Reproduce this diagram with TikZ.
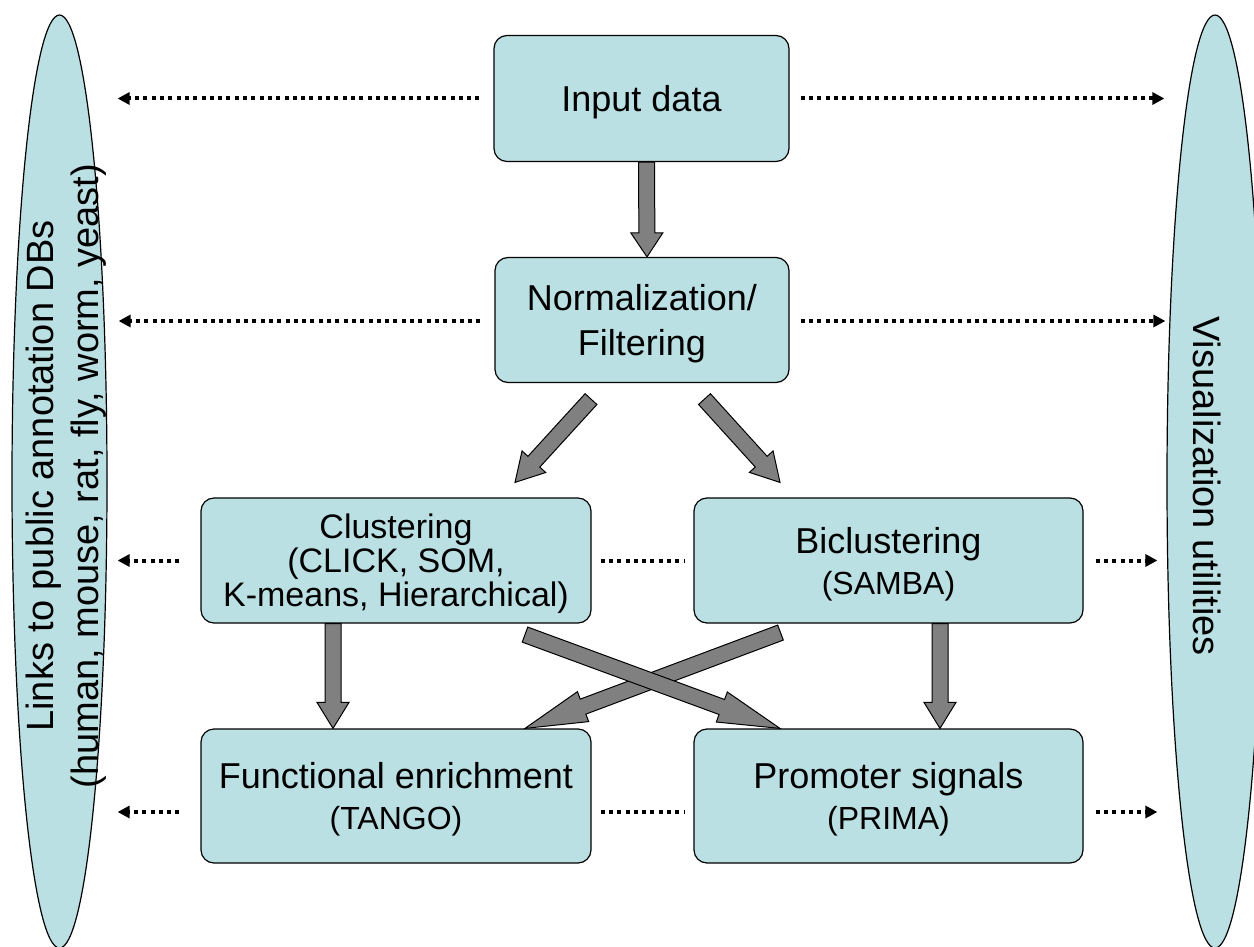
\documentclass[tikz,border=0pt]{standalone}
\usepackage{fontspec}
\setmainfont{Liberation Sans}
\usetikzlibrary{shapes.geometric,arrows.meta,calc}

\definecolor{boxfill}{RGB}{187,224,227}
\definecolor{arrfill}{RGB}{128,128,128}

\tikzset{
  boxnode/.style={draw=black, line width=1.2pt, rounded corners=13pt, fill=boxfill, align=center, inner sep=0pt, text depth=-3pt},
  sidenode/.style={ellipse, draw=black, line width=1.2pt, fill=boxfill, inner sep=0pt},
  fatarr/.style={draw=black, line width=1pt, fill=arrfill, line join=miter},
  dotline/.style={line width=4pt, dash pattern=on 4pt off 4.3pt},
  dotarr/.style={dotline, -{Triangle[length=12pt,width=12pt]}},
  bigtext/.style={font=\fontsize{36}{45}\selectfont},
  midtext/.style={font=\fontsize{34}{34}\selectfont},
  sidetext/.style={font=\fontsize{38}{45}\selectfont}
}

% block arrow: \fatarrow[head length]{from}{to}
\newcommand{\fatarrow}[3][24pt]{%
  \coordinate (fa-n) at ($(#3)!#1!(#2)$);
  \draw[fatarr] ($(#2)!8pt!90:(#3)$) -- ($(fa-n)!8pt!90:(#3)$) -- ($(fa-n)!16pt!90:(#3)$) -- (#3)
    -- ($(fa-n)!16pt!-90:(#3)$) -- ($(fa-n)!8pt!-90:(#3)$) -- ($(#2)!8pt!-90:(#3)$) -- cycle;
}
\newcommand{\subline}[1]{{\fontsize{32}{38}\selectfont #1}}

\begin{document}
\begin{tikzpicture}[x=1pt,y=1pt,yscale=-1,xscale=1]
\useasboundingbox (0,0) rectangle (1254,947);

%Shape: Ellipse left
\node[sidenode, minimum width=95pt, minimum height=933pt] (linksdb) at (59.5,481.5) {};
%Shape: Ellipse right
\node[sidenode, minimum width=96pt, minimum height=933pt] (visu) at (1215,481.5) {};

% Text Node
\node[sidetext, rotate=90, align=center] (linkstxt) at (66,476) {Links to public annotation DBs\\(human, mouse, rat, fly, worm, yeast)};
% Text Node
\node[sidetext, rotate=-90] (visutxt) at (1207,486) {Visualization utilities};

%Shape: Rounded Rect
\node[boxnode, bigtext, minimum width=295pt, minimum height=126pt] (input) at (641.5,98.5) {Input data};
\node[boxnode, bigtext, minimum width=294pt, minimum height=125pt] (norm) at (642,320) {Normalization/\\Filtering};
\node[boxnode, midtext, minimum width=390pt, minimum height=125pt] (clust) at (396,560.5) {Clustering\\(CLICK, SOM,\\K-means, Hierarchical)};
\node[boxnode, bigtext, minimum width=389pt, minimum height=125pt] (bicl) at (888.5,560.5) {Biclustering\\[-4pt]\subline{(SAMBA)}};
\node[boxnode, bigtext, minimum width=390pt, minimum height=134pt] (func) at (396,796) {Functional enrichment\\[-4pt]\subline{(TANGO)}};
\node[boxnode, bigtext, minimum width=389pt, minimum height=134pt] (prom) at (888.5,796) {Promoter signals\\[-4pt]\subline{(PRIMA)}};

%Straight Lines dotted
\draw[dotarr] ($(input.west)+(-14,0)$) -- ($(linksdb.east |- input.west)+(10,0)$);
\draw[dotarr] ($(input.east)+(11,0)$) -- ($(visu.west |- input.east)+(-2,0)$);
\draw[dotarr] ($(norm.west)+(-14,1)$) -- ($(linksdb.east |- norm.west)+(11,1)$);
\draw[dotarr] ($(norm.east)+(11,1)$) -- ($(visu.west |- norm.east)+(-1,1)$);
\draw[dotarr] ($(clust.west)+(-21,0)$) -- ($(linksdb.east |- clust.west)+(10,0)$);
\draw[dotline] ($(clust.east)+(9,0)$) -- ($(bicl.west)+(-9,0)$);
\draw[dotarr] ($(bicl.east)+(12,0)$) -- ($(visu.west |- bicl.east)+(-9,0)$);
\draw[dotarr] ($(func.west)+(-21,16)$) -- ($(linksdb.east |- func.west)+(10,16)$);
\draw[dotline] ($(func.east)+(9,16)$) -- ($(prom.west)+(-9,16)$);
\draw[dotarr] ($(prom.east)+(12,16)$) -- ($(visu.west |- prom.east)+(-9,16)$);

%Block arrows
\coordinate (a1s) at ($(input.south)+(5,0)$);
\coordinate (a1e) at ($(norm.north)+(5,0)$);
\coordinate (a2s) at ($(norm.south)+(-51,16)$);
\coordinate (a2e) at ($(clust.north)+(119,-15)$);
\coordinate (a3s) at ($(norm.south)+(62.5,16)$);
\coordinate (a3e) at ($(bicl.north)+(-108.5,-15)$);
\coordinate (a4s) at ($(clust.south)+(-63,0)$);
\coordinate (a4e) at ($(func.north)+(-63,0)$);
\coordinate (a5s) at ($(bicl.south)+(51.5,0)$);
\coordinate (a5e) at ($(prom.north)+(51.5,0)$);
\coordinate (a6s) at ($(bicl.south)+(-108,9)$);
\coordinate (a6e) at ($(func.north)+(129,0)$);
\coordinate (a7s) at ($(clust.south)+(129,11)$);
\coordinate (a7e) at ($(prom.north)+(-108.5,0)$);

\fatarrow{a1s}{a1e}
\fatarrow[28pt]{a2s}{a2e}
\fatarrow[28pt]{a3s}{a3e}
\fatarrow[26pt]{a4s}{a4e}
\fatarrow[26pt]{a5s}{a5e}
\fatarrow[62pt]{a6s}{a6e}
\fatarrow[62pt]{a7s}{a7e}

\end{tikzpicture}
\end{document}
